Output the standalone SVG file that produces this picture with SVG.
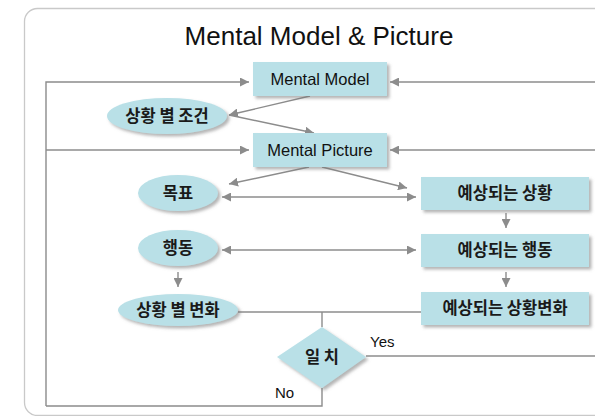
<svg xmlns="http://www.w3.org/2000/svg" width="595" height="416" viewBox="0 0 595 416">
<style>
.frame{fill:#ffffff;stroke:#c9c9c9;stroke-width:1.3}
.box{fill:#b9e0e7;filter:url(#sh)}
.ell{fill:#b9e0e7;filter:url(#sh)}
.ln{fill:none;stroke:#8c8c8c;stroke-width:1.4}
.ar{marker-end:url(#ah)}
.dar{marker-start:url(#ah);marker-end:url(#ah)}
.lat{font-family:"Liberation Sans",Arial,sans-serif;fill:#111}
.kr{font-family:"Noto Sans CJK KR","Noto Sans",sans-serif;font-weight:bold;font-size:16.5px;fill:#1a1a1a;text-anchor:middle}
</style>
<defs>
<filter id="sh" x="-20%" y="-30%" width="150%" height="180%">
<feDropShadow dx="2.5" dy="2.5" stdDeviation="1.5" flood-color="#777" flood-opacity="0.55"/>
</filter>
<marker id="ah" markerUnits="userSpaceOnUse" viewBox="0 0 10 10" refX="10" refY="5" markerWidth="9" markerHeight="9" orient="auto-start-reverse">
<path d="M0,0 L10,5 L0,10 z" fill="#8c8c8c"/>
</marker>
</defs>
<rect class="frame" x="24.5" y="8.5" width="620" height="407" rx="13"/>
<text class="lat" x="319" y="45" font-size="26" text-anchor="middle">Mental Model &amp; Picture</text>
<g id="connectors">
<polyline class="ln ar" points="46,406 46,82 249,82"/>
<line class="ln ar" x1="46" y1="150" x2="249" y2="150"/>
<line class="ln ar" x1="595" y1="82" x2="390" y2="82"/>
<line class="ln ar" x1="595" y1="150" x2="390" y2="150"/>
<line class="ln ar" x1="310" y1="96" x2="229" y2="115"/>
<line class="ln ar" x1="229" y1="115" x2="314" y2="133"/>
<line class="ln ar" x1="309" y1="167" x2="229" y2="184"/>
<line class="ln ar" x1="322" y1="167" x2="407" y2="188"/>
<line class="ln dar" x1="222" y1="197" x2="416" y2="197"/>
<line class="ln dar" x1="222" y1="250" x2="416" y2="250"/>
<line class="ln ar" x1="506" y1="213" x2="506" y2="228"/>
<line class="ln ar" x1="178" y1="272" x2="178" y2="287"/>
<line class="ln ar" x1="506" y1="272" x2="506" y2="287"/>
<line class="ln" x1="238" y1="312" x2="421" y2="312"/>
<line class="ln" x1="322" y1="312" x2="322" y2="327"/>
<line class="ln" x1="366" y1="356" x2="595" y2="356"/>
<polyline class="ln" points="322,388 322,406 46,406"/>
</g>
<g id="mental-model">
<rect class="box" x="253" y="62" width="134" height="34"/>
<text class="lat" x="320" y="85" font-size="16.5" text-anchor="middle">Mental Model</text>
</g>
<g id="mental-picture">
<rect class="box" x="253" y="133" width="134" height="34"/>
<text class="lat" x="320" y="156" font-size="16.5" text-anchor="middle">Mental Picture</text>
</g>
<g id="condition">
<ellipse class="ell" cx="167" cy="116" rx="60" ry="18"/>
<text class="kr" x="167" y="122">상황 별 조건</text>
</g>
<g id="goal">
<ellipse class="ell" cx="178" cy="193" rx="40" ry="18"/>
<text class="kr" x="178" y="199">목표</text>
</g>
<g id="action">
<ellipse class="ell" cx="178" cy="248" rx="40" ry="18"/>
<text class="kr" x="178" y="254">행동</text>
</g>
<g id="change">
<ellipse class="ell" cx="178" cy="310" rx="60" ry="16"/>
<text class="kr" x="178" y="316">상황 별 변화</text>
</g>
<g id="expected-situation">
<rect class="box" x="421" y="177" width="168" height="33"/>
<text class="kr" x="505" y="199">예상되는 상황</text>
</g>
<g id="expected-action">
<rect class="box" x="421" y="234" width="168" height="33"/>
<text class="kr" x="505" y="256">예상되는 행동</text>
</g>
<g id="expected-change">
<rect class="box" x="421" y="292" width="168" height="33"/>
<text class="kr" x="505" y="314">예상되는 상황변화</text>
</g>
<g id="match">
<polygon class="box" points="322,327 366,357 322,388 277,357"/>
<text class="kr" x="322" y="363" font-size="17">일 치</text>
</g>
<text class="lat" x="370" y="347" font-size="15">Yes</text>
<text class="lat" x="275" y="398" font-size="15">No</text>
</svg>
